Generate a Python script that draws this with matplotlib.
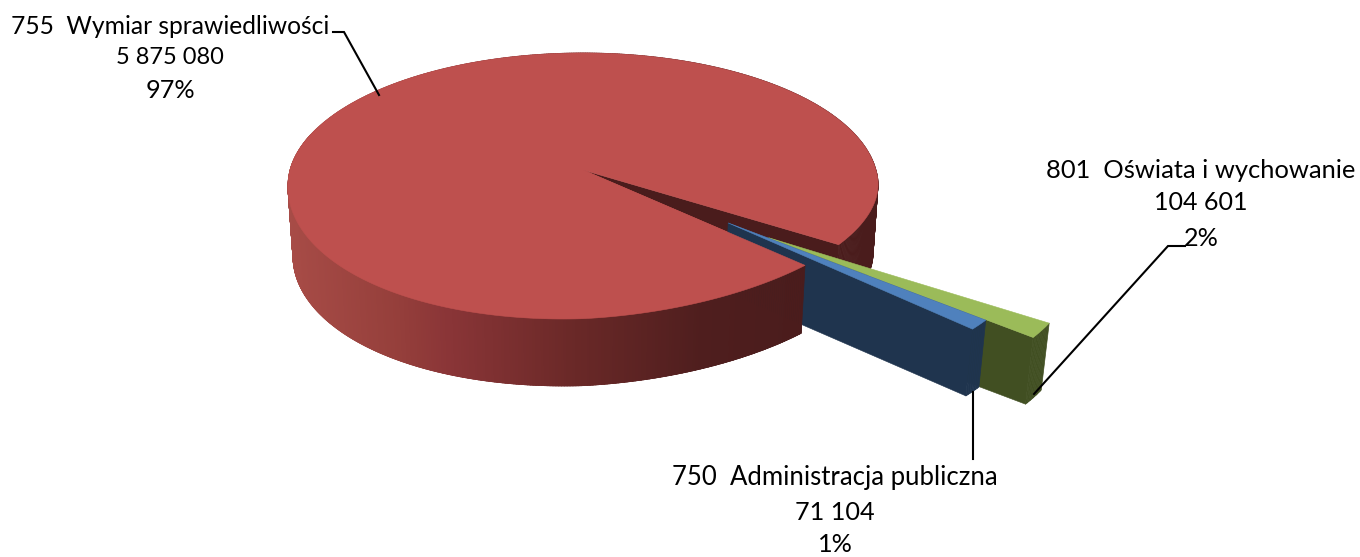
import numpy as np
import matplotlib
matplotlib.use("Agg")
import matplotlib.pyplot as plt
from matplotlib.patches import Polygon
from matplotlib.collections import PolyCollection
from matplotlib.colors import to_rgb

# ---- data ----
codes = ["755", "801", "750"]
names = ["Wymiar sprawiedliwości", "Oświata i wychowanie", "Administracja publiczna"]
values = [5875080, 104601, 71104]

# ---- layout / style ----
W, H = 1360, 557
FONT = "Lato"
NAME_FS = [17.7, 18.35, 18.5]
NUM_FS = [17.0, 18.0, 18.2]
PCT_FS = [18.2, 18.2, 18.2]
CX, CY, A, B, K = 583, 170, 293, 131, 0.119    # perspective of the top face
S, FX, FY = 0.983, 583, 4259                   # perspective of the lower face
WARP_R, WARP_L = 0.05, 0.03                    # lens skew of the red near rim
EXPLODE = [0.0, 0.77, 0.61]
EXPLODE_DIR = 39.2
SLICE_R = 0.965
RED_ROT = 1.7                                  # red gap sits slightly past the slices
TOP = ["#BE504E", "#9BBB59", "#4F81BD"]
WALL = ["#4A1C1C", "#414F22", "#1F344E"]
GRAD_X = [290, 400, 450, 570, 700, 810]
GRAD_C = ["#A84C47", "#953F3B", "#8A3537", "#6B2928", "#4F1E1E", "#4A1C1C"]

fractions = np.array(values) / sum(values)
spans = fractions * 360


def top(u, v, warp=False):
    u, v = np.asarray(u, float), np.asarray(v, float)
    d = 1 - K * v
    x = CX + A * u / d
    y = CY + B * v / d
    if warp:
        c = np.where(x > CX, WARP_R, WARP_L)
        y = y - c * (x - CX) * np.maximum(v, 0)
    return np.column_stack([x, y])


def low(p):
    return np.column_stack([FX + S * (p[:, 0] - FX), FY + S * (p[:, 1] - FY)])


def arc(t0, t1, off, r=1.0, n=None):
    n = n or max(4, int(abs(t1 - t0) * 2))
    t = np.radians(np.linspace(t0, t1, n))
    return r * np.cos(t) + off[0], r * np.sin(t) + off[1]


def face(ax, pts, color, z):
    ax.add_patch(Polygon(pts, closed=True, facecolor=color, edgecolor=color, lw=0.4, zorder=z))


def rim(ax, t0, t1, off, colorfn, z, r=1.0, warp=False):
    u, v = arc(t0, t1, off, r)
    p = top(u, v, warp)
    q = low(p)
    polys = [[p[i], p[i + 1], q[i + 1], q[i]] for i in range(len(p) - 1)]
    cols = [colorfn(0.5 * (q[i, 0] + q[i + 1, 0])) for i in range(len(p) - 1)]
    ax.add_collection(PolyCollection(polys, facecolors=cols, edgecolors=cols, linewidths=0.5, zorder=z))


def top_face(ax, t0, t1, off, color, z, r=1.0, warp=False):
    u, v = arc(t0, t1, off, r)
    pts = np.vstack([top([off[0]], [off[1]]), top(u, v, warp)])
    face(ax, pts, color, z)


def cut_wall(ax, t, off, color, z, r=1.0, warp=False):
    u, v = arc(t, t, off, r, 2)
    a = top([off[0]], [off[1]])[0]
    b = top(u[:1], v[:1], warp)[0]
    pts = np.array([a, b])
    face(ax, np.vstack([pts, low(pts)[::-1]]), color, z)


grad = np.array([to_rgb(c) for c in GRAD_C])


def red_col(x):
    return tuple(np.interp(x, GRAD_X, grad[:, i]) for i in range(3))


fig = plt.figure(figsize=(W / 100, H / 100), dpi=100)
ax = fig.add_axes([0, 0, 1, 1])
ax.set_xlim(0, W)
ax.set_ylim(H, 0)
ax.axis("off")

# angles: screen-clockwise from +x
green_start = 34.0
green_end = green_start + spans[1]
blue_start = green_end
blue_end = blue_start + spans[2]
red_end = green_start + RED_ROT
red_start = red_end - spans[0]
d = np.radians(EXPLODE_DIR)

# red body
rim(ax, red_start, red_end, (0, 0), red_col, 1, warp=True)
cut_wall(ax, red_end, (0, 0), WALL[0], 1.5, warp=True)
top_face(ax, red_start, red_end, (0, 0), TOP[0], 2, warp=True)

# exploded slices
for t0, t1, ex, i, z in [(green_start, green_end, EXPLODE[1], 1, 3),
                         (blue_start, blue_end, EXPLODE[2], 2, 4)]:
    off = (ex * np.cos(d), ex * np.sin(d))
    rim(ax, t0, t1, off, lambda x, c=WALL[i]: to_rgb(c), z, r=SLICE_R)
    cut_wall(ax, t1, off, WALL[i], z + 0.1, r=SLICE_R)
    top_face(ax, t0, t1, off, TOP[i], z + 0.2, r=SLICE_R)

# near part of the red slice sits in front of them
near0 = red_start + 360
rim(ax, near0, near0 + 150, (0, 0), red_col, 5, warp=True)
top_face(ax, near0, near0 + 150, (0, 0), TOP[0], 6, warp=True)

# labels
total = sum(values)
labels = [(170, [26, 58, 90]), (1201, [170, 203, 238]), (835, [478, 512, 545])]
for k, ((x, ys), code, name, val) in enumerate(zip(labels, codes, names, values)):
    lines = [f"{code}  {name}", f"{val:,}".replace(",", " "), f"{round(100 * val / total)}%"]
    sizes = [NAME_FS[k], NUM_FS[k], PCT_FS[k]]
    for y, s, fs in zip(ys, lines, sizes):
        ax.text(x, y, s, ha="center", va="center", fontsize=fs, family=FONT, color="black", zorder=10)

# leader lines
leaders = [([333, 344, 379], [32, 32, 95]),
           ([1185, 1168, 1034], [246, 246, 394]),
           ([973, 973], [392, 459])]
for xs, ys in leaders:
    ax.plot(xs, ys, color="black", lw=1.5, zorder=9, solid_joinstyle="miter")

fig.savefig("out.png", dpi=100)
